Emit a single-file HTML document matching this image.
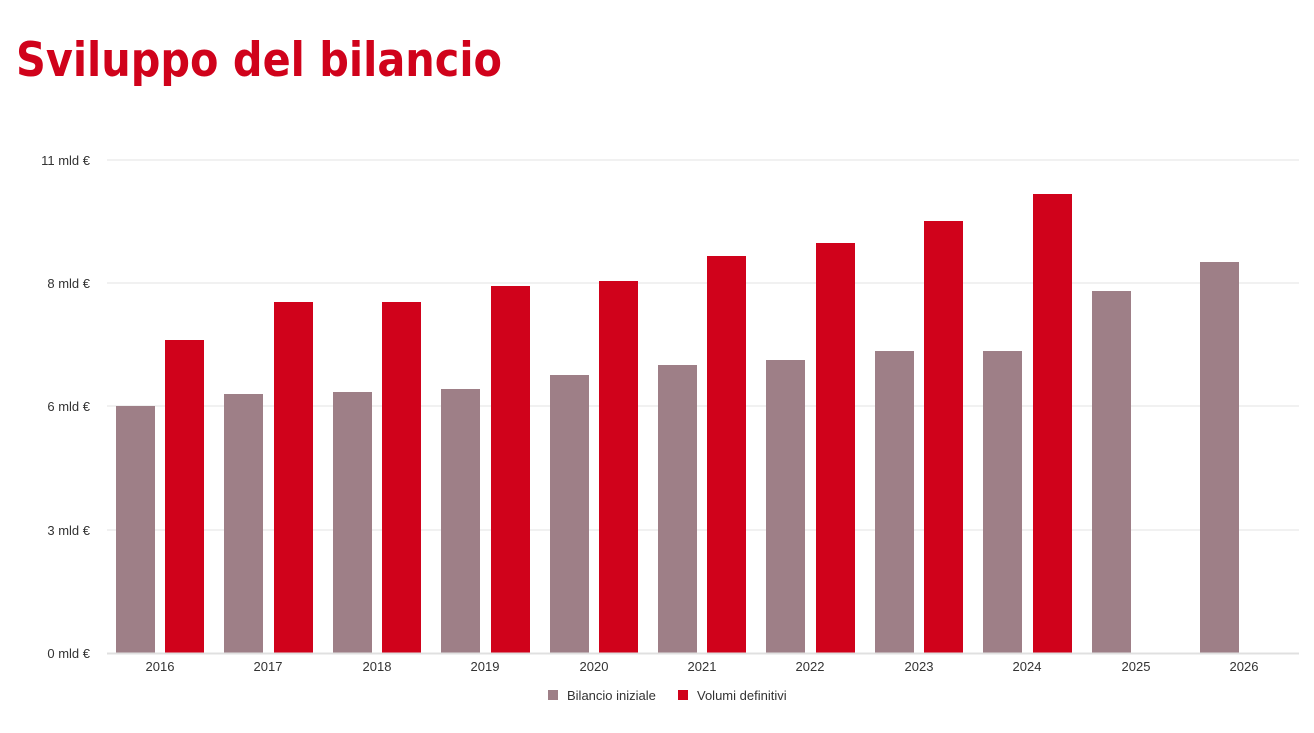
<!DOCTYPE html>
<html><head><meta charset="utf-8"><style>
body{margin:0;background:#fff;width:1314px;height:728px;overflow:hidden}
</style></head><body>
<svg width="1314" height="728" xmlns="http://www.w3.org/2000/svg" font-family="Liberation Sans, sans-serif">
<text x="16" y="76" font-size="47" font-weight="bold" fill="#d0021b" font-family="DejaVu Sans, sans-serif" textLength="486" lengthAdjust="spacingAndGlyphs">Sviluppo del bilancio</text>
<g stroke="#e3e3e3" stroke-width="1">
<line x1="107" y1="160" x2="1299" y2="160"/><line x1="107" y1="283" x2="1299" y2="283"/><line x1="107" y1="406" x2="1299" y2="406"/><line x1="107" y1="530" x2="1299" y2="530"/>
</g>
<g font-size="13" fill="#333" text-anchor="end">
<text x="90" y="165">11 mld €</text><text x="90" y="288">8 mld €</text><text x="90" y="411">6 mld €</text><text x="90" y="535">3 mld €</text><text x="90" y="658">0 mld €</text>
</g>
<g fill="#9e7f87">
<rect x="116" y="406" width="39" height="247"/>
<rect x="224" y="394" width="39" height="259"/>
<rect x="333" y="392" width="39" height="261"/>
<rect x="441" y="389" width="39" height="264"/>
<rect x="550" y="375" width="39" height="278"/>
<rect x="658" y="365" width="39" height="288"/>
<rect x="766" y="360" width="39" height="293"/>
<rect x="875" y="351" width="39" height="302"/>
<rect x="983" y="351" width="39" height="302"/>
<rect x="1092" y="291" width="39" height="362"/>
<rect x="1200" y="262" width="39" height="391"/>
</g>
<g fill="#d0021b">
<rect x="165" y="340" width="39" height="313"/>
<rect x="274" y="302" width="39" height="351"/>
<rect x="382" y="302" width="39" height="351"/>
<rect x="491" y="286" width="39" height="367"/>
<rect x="599" y="281" width="39" height="372"/>
<rect x="707" y="256" width="39" height="397"/>
<rect x="816" y="243" width="39" height="410"/>
<rect x="924" y="221" width="39" height="432"/>
<rect x="1033" y="194" width="39" height="459"/>
</g>
<line x1="107" y1="653.5" x2="1299" y2="653.5" stroke="#e0e0e0" stroke-width="2"/>
<g font-size="13" fill="#333" text-anchor="middle">
<text x="160" y="671">2016</text><text x="268" y="671">2017</text><text x="377" y="671">2018</text><text x="485" y="671">2019</text><text x="594" y="671">2020</text><text x="702" y="671">2021</text><text x="810" y="671">2022</text><text x="919" y="671">2023</text><text x="1027" y="671">2024</text><text x="1136" y="671">2025</text><text x="1244" y="671">2026</text>
</g>
<rect x="548" y="690" width="10" height="10" fill="#9e7f87"/>
<text x="567" y="700" font-size="13" fill="#333">Bilancio iniziale</text>
<rect x="678" y="690" width="10" height="10" fill="#d0021b"/>
<text x="697" y="700" font-size="13" fill="#333">Volumi definitivi</text>
</svg>
</body></html>
